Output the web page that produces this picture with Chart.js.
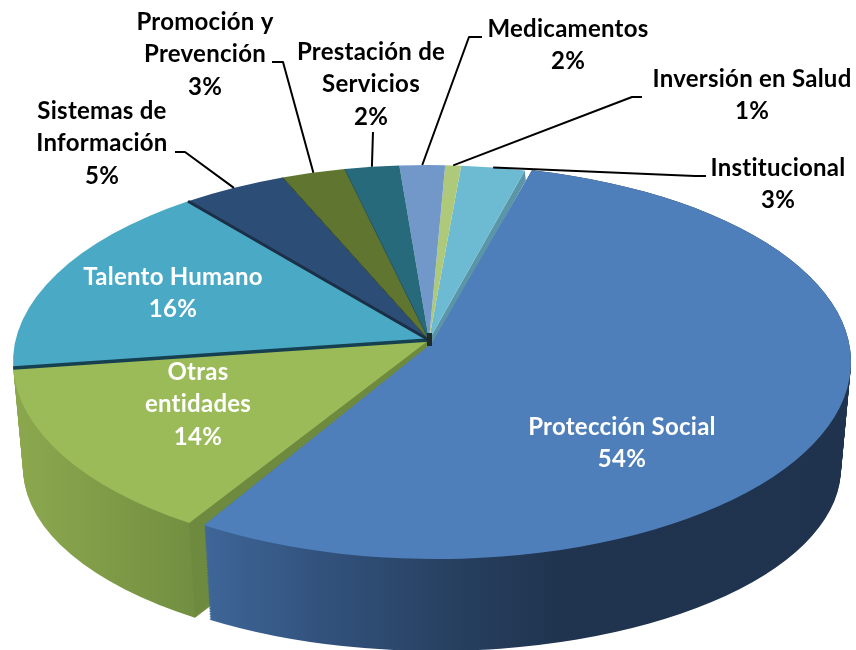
<!DOCTYPE html>
<html><head><meta charset="utf-8">
<style>html,body{margin:0;padding:0;background:#fff}canvas{display:block}</style>
<script src="https://cdn.jsdelivr.net/npm/chart.js@4"></script>
</head><body><canvas id="c" width="856" height="650"></canvas>
<script>
const categories = ['Protección Social','Otras entidades','Talento Humano','Sistemas de Información','Promoción y Prevención','Prestación de Servicios','Medicamentos','Inversión en Salud','Institucional'];
const shares = [54.4,13.85,16.45,4.6,2.8,2.4,2.0,0.7,2.8];
const sliceColors = ['#4F7FBA','#9BBB59','#4AA9C5','#2C4D75','#5F7530','#276A7C','#7298CA','#AFC97A','#6DBBD3'];
const lineBreaks = [0,1,0,2,2,2,0,0,0];

// layout, kept apart from the data
const FONT_SIZE = 24, LINE = 32.5;
const labelAnchors = [[622,427,'#fff'],[198,372,'#fff'],[173,277,'#fff'],[102,111,'#000'],[205,22,'#000'],[371,52,'#000'],[568,29,'#000'],[752,79,'#000'],[778,168,'#000']];
const leaderElbows = [null,null,null,[[175,152],[185,152]],[[272,62],[283,62]],[[373,132]],[[482,37],[469,37]],[[642,97],[632,97]],[[706,176],[695,176]]];
const top3d = {cx:428,cy:362,rx:415,ry:197,ax:429,ay:340};
const bottom3d = {cx:428,cy:468,rx:405,ry:183,ax:429,ay:442};
const explode = {dx:8,dy:0};
const PROT_GAP_END = 0.02, PROT_GAP_START = 0.002;
const K = Math.sqrt((1-25/197)/(1+25/197));

const norm = a => Math.atan2(Math.sin(a),Math.cos(a));
const project = a => { const t = norm(a+Math.PI/2); return 2*Math.atan(K*Math.tan(t/2))-Math.PI/2; };
const pt = (g,t,o) => [g.cx+o.dx+g.rx*Math.cos(t), g.cy+o.dy+g.ry*Math.sin(t)];

const pie3d = {
  id:'pie3d',
  beforeDatasetDraw(chart){
    const ctx = chart.ctx, arcs = chart.getDatasetMeta(0).data;
    const none = {dx:0,dy:0};
    const ang = arcs.map(a=>[project(a.startAngle),project(a.endAngle)]);
    ang[0][1] -= PROT_GAP_END;
    ang[0][0] -= PROT_GAP_START;
    const off = i => i===0?explode:none;

    const wallBlue = ctx.createLinearGradient(205,0,851,0);
    [[0,'#3E6698'],[.2,'#31507A'],[.4,'#263F5E'],[.55,'#20344F'],[1,'#1F334E']].forEach(s=>wallBlue.addColorStop(s[0],s[1]));
    const wallGreen = ctx.createLinearGradient(15,0,195,0);
    wallGreen.addColorStop(0,'#8CA84E'); wallGreen.addColorStop(1,'#728F41');
    // sweep the whole wedge from the top outline down to the bottom outline
    const wall=(i,fill)=>{
      const o=off(i), N=60;
      ctx.fillStyle=fill;
      for(let n=0;n<=N;n++){
        const s=n/N, mix=(p,q)=>p+(q-p)*s;
        ctx.beginPath();
        ctx.moveTo(mix(top3d.ax,bottom3d.ax)+o.dx,mix(top3d.ay,bottom3d.ay)+o.dy);
        ctx.ellipse(mix(top3d.cx,bottom3d.cx)+o.dx,mix(top3d.cy,bottom3d.cy)+o.dy,mix(top3d.rx,bottom3d.rx),mix(top3d.ry,bottom3d.ry),0,ang[i][0],ang[i][1]);
        ctx.closePath();ctx.fill();
      }
    };
    wall(1,wallGreen);

    // cut face of Otras entidades, seen through the gap at the detached slice
    const e = pt(top3d,ang[1][0],none), f = pt(bottom3d,ang[1][0],none);
    ctx.fillStyle='#6E8A3E';
    ctx.beginPath();ctx.moveTo(top3d.ax,top3d.ay);ctx.lineTo(e[0],e[1]);ctx.lineTo(f[0],f[1]);ctx.lineTo(f[0]+18,f[1]-19);ctx.lineTo(e[0]+24,e[1]);ctx.lineTo(top3d.ax+8,top3d.ay+8);ctx.closePath();ctx.fill();

    wall(0,wallBlue);

    // cut face of Institucional
    const inst = pt(top3d,ang[8][1],none);
    ctx.fillStyle='#5A96A8';
    ctx.beginPath();ctx.moveTo(top3d.ax,top3d.ay);ctx.lineTo(inst[0],inst[1]);ctx.lineTo(inst[0]+1,inst[1]+10);ctx.lineTo(top3d.ax+4,top3d.ay+6);ctx.closePath();ctx.fill();

    // top faces
    for(let i=arcs.length-1;i>=0;i--){
      const o=off(i);
      ctx.fillStyle=sliceColors[i];
      ctx.beginPath();
      if(i===0) ctx.moveTo(top3d.ax+3,top3d.ay+3); else ctx.moveTo(top3d.ax,top3d.ay);
      ctx.ellipse(top3d.cx+o.dx,top3d.cy+o.dy,top3d.rx,top3d.ry,0,ang[i][0],ang[i][1]);
      ctx.closePath();ctx.fill();
    }
    // seams between slices
    const seam=(i,col,w)=>{const p=pt(top3d,ang[i][0],none);ctx.strokeStyle=col;ctx.lineWidth=w;ctx.beginPath();ctx.moveTo(top3d.ax,top3d.ay);ctx.lineTo(p[0],p[1]);ctx.stroke();};
    seam(2,'#163F50',3.5); seam(3,'#1B2F47',3); seam(4,'#33481F',1); seam(5,'#1D4F5C',1);
    ctx.fillStyle='#1E2B2B';ctx.fillRect(top3d.ax-2,top3d.ay-7,5,13);
    return false;
  },
  afterDraw(chart){
    const ctx = chart.ctx, arcs = chart.getDatasetMeta(0).data;
    ctx.strokeStyle='#000';ctx.lineWidth=2;ctx.lineJoin='round';
    leaderElbows.forEach((el,i)=>{
      if(!el) return;
      const mid=(arcs[i].startAngle+arcs[i].endAngle)/2, p=pt(top3d,project(mid),{dx:0,dy:0});
      ctx.beginPath();ctx.moveTo(el[0][0],el[0][1]);
      el.slice(1).forEach(q=>ctx.lineTo(q[0],q[1]));
      ctx.lineTo(p[0],p[1]);ctx.stroke();
    });
    ctx.font='bold '+FONT_SIZE+'px Lato';ctx.textAlign='center';ctx.textBaseline='middle';
    ctx.letterSpacing='0.25px';
    categories.forEach((name,i)=>{
      const w=name.split(' '), n=lineBreaks[i];
      const lines=n?[w.slice(0,n).join(' '),w.slice(n).join(' ')]:[name];
      lines.push(Math.round(shares[i])+'%');
      const an=labelAnchors[i];
      ctx.fillStyle=an[2];
      lines.forEach((l,k)=>ctx.fillText(l,an[0],an[1]+k*LINE));
    });
  }
};

new Chart(document.getElementById('c'),{
  type:'pie',
  data:{labels:categories,datasets:[{data:shares,backgroundColor:sliceColors,borderWidth:0}]},
  options:{responsive:false,animation:false,rotation:15.3,
    plugins:{legend:{display:false},tooltip:{enabled:false},title:{display:false}}},
  plugins:[pie3d]
});
</script></body></html>
